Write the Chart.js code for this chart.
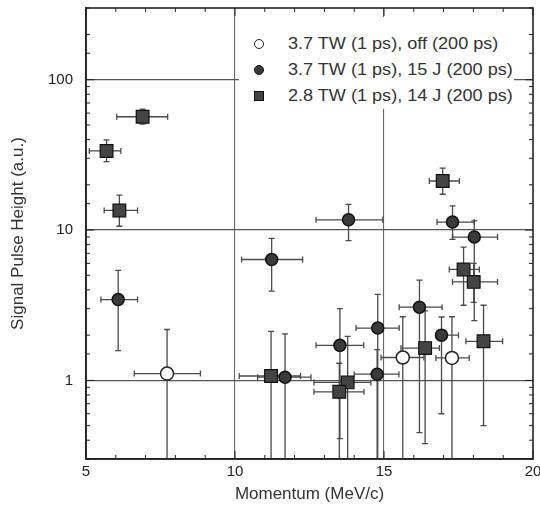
<!DOCTYPE html>
<html>
<head>
<meta charset="utf-8">
<script src="https://cdn.jsdelivr.net/npm/chart.js@4.4.1/dist/chart.umd.min.js"></script>
<style>
  html, body { margin: 0; padding: 0; background: #fff; }
  #wrap { position: relative; width: 540px; height: 508px; }
  #legend {
    position: absolute; left: 239px; top: 17px; width: 275px; height: 92px;
    background: #fff; font: 16px "Liberation Sans", Arial, sans-serif; color: #333;
  }
  .row { position: absolute; left: 0; height: 20px; line-height: 20px; white-space: nowrap; }
  .mk { position: absolute; left: 15px; top: 5px; width: 10px; height: 10px; box-sizing: border-box; }
  .txt { position: absolute; left: 49px; top: 0; transform: scaleX(1.13); transform-origin: 0 50%; }
  .open { border: 1.5px solid #222; border-radius: 50%; background: #fff; }
  .fill { border: 1.5px solid #111; border-radius: 50%; background: #3a3a3a; }
  .sq { border: 1px solid #111; background: #444; }
</style>
</head>
<body>
<div id="wrap">
  <canvas id="c" width="540" height="508"></canvas>
  <div id="legend">
    <div class="row" style="top:17px"><span class="mk open"></span><span class="txt">3.7 TW (1 ps), off (200 ps)</span></div>
    <div class="row" style="top:43px"><span class="mk fill"></span><span class="txt">3.7 TW (1 ps), 15 J (200 ps)</span></div>
    <div class="row" style="top:69px"><span class="mk sq"></span><span class="txt">2.8 TW (1 ps), 14 J (200 ps)</span></div>
  </div>
</div>
<script>
// ---------- data ----------
// open circles: 3.7 TW (1 ps), off (200 ps)
const offX   = [7.72, 15.63, 17.28];
const offY   = [1.11, 1.42, 1.41];
const offXLo = [6.62, 14.90, 16.74];
const offXHi = [8.84, 16.34, 17.86];
const offYLo = [0.2, 0.2, 0.2];
const offYHi = [2.18, 2.65, 2.65];

// filled circles: 3.7 TW (1 ps), 15 J (200 ps)
const onX   = [6.08, 11.23, 13.81, 11.68, 13.52, 14.79, 14.77, 16.19, 16.93, 17.30, 18.03];
const onY   = [3.45, 6.37, 11.7, 1.05, 1.71, 2.23, 1.10, 3.07, 2.00, 11.3, 8.98];
const onXLo = [5.50, 10.22, 12.72, 10.76, 12.72, 14.06, 14.00, 15.51, 16.74, 16.78, 17.30];
const onXHi = [6.73, 12.27, 14.96, 12.55, 14.32, 15.51, 15.50, 16.95, 17.50, 18.03, 18.81];
const onYLo = [1.58, 3.92, 8.5, 0.2, 0.41, 0.2, 0.2, 0.45, 0.60, 8.67, 2.5];
const onYHi = [5.39, 8.8, 14.8, 2.04, 3.0, 3.73, 1.6, 4.64, 2.64, 14.5, 11.5];

// squares: 2.8 TW (1 ps), 14 J (200 ps)
const sqX   = [6.90, 5.69, 6.12, 11.21, 13.78, 13.50, 16.38, 16.97, 17.67, 18.01, 18.34];
const sqY   = [56.7, 33.6, 13.5, 1.07, 0.97, 0.84, 1.64, 21.2, 5.47, 4.52, 1.82];
const sqXLo = [6.03, 5.11, 5.61, 10.14, 12.65, 12.65, 15.57, 16.52, 17.19, 17.30, 17.75];
const sqXHi = [7.74, 6.17, 6.73, 12.20, 14.56, 14.33, 16.86, 17.53, 18.20, 18.81, 18.98];
const sqYLo = [50.7, 28.5, 10.6, 0.2, 0.2, 0.2, 0.38, 17.3, 3.16, 3.3, 0.5];
const sqYHi = [63.8, 39.8, 17.1, 2.12, 1.96, 1.3, 2.9, 25.8, 7.7, 6.0, 3.16];

const xMajorLabels = [5, 10, 15, 20];
const yMajorLabels = [1, 10, 100];

// ---------- helpers ----------
function points(xs, ys, xlo, xhi, ylo, yhi) {
  return xs.map((v, i) => ({ x: v, y: ys[i], xLo: xlo[i], xHi: xhi[i], yLo: ylo[i], yHi: yhi[i] }));
}
function isDecade(v) {
  const l = Math.log10(v);
  return Math.abs(l - Math.round(l)) < 1e-6;
}

// error bars under the markers
const errorBars = {
  id: 'errorBars',
  beforeDatasetsDraw(chart) {
    const { ctx, chartArea: a, scales: { x, y } } = chart;
    ctx.save();
    ctx.beginPath();
    ctx.rect(a.left, a.top, a.right - a.left, a.bottom - a.top);
    ctx.clip();
    ctx.strokeStyle = '#4a4a4a';
    ctx.lineWidth = 1.3;
    const cap = 3;
    chart.data.datasets.forEach((ds) => {
      ds.data.forEach((p) => {
        const px = x.getPixelForValue(p.x), py = y.getPixelForValue(p.y);
        const x0 = x.getPixelForValue(p.xLo), x1 = x.getPixelForValue(p.xHi);
        const y0 = y.getPixelForValue(p.yLo), y1 = y.getPixelForValue(p.yHi);
        ctx.beginPath();
        ctx.moveTo(x0, py); ctx.lineTo(x1, py);
        ctx.moveTo(px, y0); ctx.lineTo(px, y1);
        ctx.moveTo(x0, py - cap); ctx.lineTo(x0, py + cap);
        ctx.moveTo(x1, py - cap); ctx.lineTo(x1, py + cap);
        ctx.moveTo(px - cap, y0); ctx.lineTo(px + cap, y0);
        ctx.moveTo(px - cap, y1); ctx.lineTo(px + cap, y1);
        ctx.stroke();
      });
    });
    ctx.restore();
  }
};

// box frame + inward ticks on all four sides
const frameTicks = {
  id: 'frameTicks',
  afterDraw(chart) {
    const { ctx, chartArea: a, scales: { x, y } } = chart;
    ctx.save();
    ctx.strokeStyle = '#222';
    ctx.lineWidth = 1;
    ctx.beginPath();
    y.ticks.forEach((t) => {
      const py = y.getPixelForValue(t.value);
      const len = isDecade(t.value) ? 8 : 4;
      ctx.moveTo(a.left, py); ctx.lineTo(a.left + len, py);
      ctx.moveTo(a.right, py); ctx.lineTo(a.right - len, py);
    });
    x.ticks.forEach((t) => {
      const px = x.getPixelForValue(t.value);
      const len = t.value % 5 === 0 ? 8 : 4;
      ctx.moveTo(px, a.bottom); ctx.lineTo(px, a.bottom - len);
      ctx.moveTo(px, a.top); ctx.lineTo(px, a.top + len);
    });
    ctx.stroke();
    ctx.lineWidth = 1.6;
    ctx.strokeRect(a.left, a.top, a.right - a.left, a.bottom - a.top);
    ctx.restore();
  }
};

const font = { family: '"Liberation Sans", Arial, sans-serif' };

new Chart(document.getElementById('c'), {
  type: 'scatter',
  data: {
    datasets: [
      {
        label: '3.7 TW (1 ps), off (200 ps)',
        data: points(offX, offY, offXLo, offXHi, offYLo, offYHi),
        pointStyle: 'circle', pointRadius: 6.5,
        backgroundColor: '#fff', borderColor: '#222', borderWidth: 1.5
      },
      {
        label: '3.7 TW (1 ps), 15 J (200 ps)',
        data: points(onX, onY, onXLo, onXHi, onYLo, onYHi),
        pointStyle: 'circle', pointRadius: 6,
        backgroundColor: '#3a3a3a', borderColor: '#111', borderWidth: 1.5
      },
      {
        label: '2.8 TW (1 ps), 14 J (200 ps)',
        data: points(sqX, sqY, sqXLo, sqXHi, sqYLo, sqYHi),
        pointStyle: 'rect', pointRadius: 9,
        backgroundColor: '#444', borderColor: '#111', borderWidth: 1.2
      }
    ]
  },
  options: {
    responsive: false,
    animation: false,
    devicePixelRatio: 1,
    layout: { autoPadding: false, padding: { top: 8, right: 7, left: 0, bottom: 0 } },
    plugins: { legend: { display: false }, tooltip: { enabled: false } },
    scales: {
      x: {
        type: 'linear', min: 5, max: 20,
        afterFit: (s) => { s.height = 49; s.paddingLeft = 0; s.paddingRight = 0; },
        grid: {
          drawTicks: false, lineWidth: 1.1,
          color: (c) => (c.tick && (c.tick.value === 10 || c.tick.value === 15)) ? '#666' : 'rgba(0,0,0,0)'
        },
        border: { color: '#222', width: 1.6 },
        ticks: {
          stepSize: 1, autoSkip: false, maxRotation: 0, padding: 4,
          color: '#222', font: { ...font, size: 15 },
          callback: (v) => xMajorLabels.includes(v) ? String(v) : ''
        },
        title: {
          display: true, text: 'Momentum (MeV/c)', color: '#333',
          font: { ...font, size: 17 }, padding: { top: 0, bottom: 3 }
        }
      },
      y: {
        type: 'logarithmic', min: 0.3, max: 300,
        afterFit: (s) => { s.width = 86; s.paddingTop = 0; s.paddingBottom = 0; },
        grid: {
          drawTicks: false, lineWidth: 1.2,
          color: (c) => (c.tick && isDecade(c.tick.value)) ? '#555' : 'rgba(0,0,0,0)'
        },
        border: { color: '#222', width: 1.6 },
        ticks: {
          autoSkip: false, padding: 13,
          color: '#222', font: { ...font, size: 15 },
          callback: (v) => yMajorLabels.includes(v) ? String(v) : ''
        },
        title: {
          display: true, text: 'Signal Pulse Height (a.u.)', color: '#333',
          font: { ...font, size: 17 }, padding: { top: 8, bottom: 0 }
        }
      }
    }
  },
  plugins: [errorBars, frameTicks]
});
</script>
</body>
</html>
